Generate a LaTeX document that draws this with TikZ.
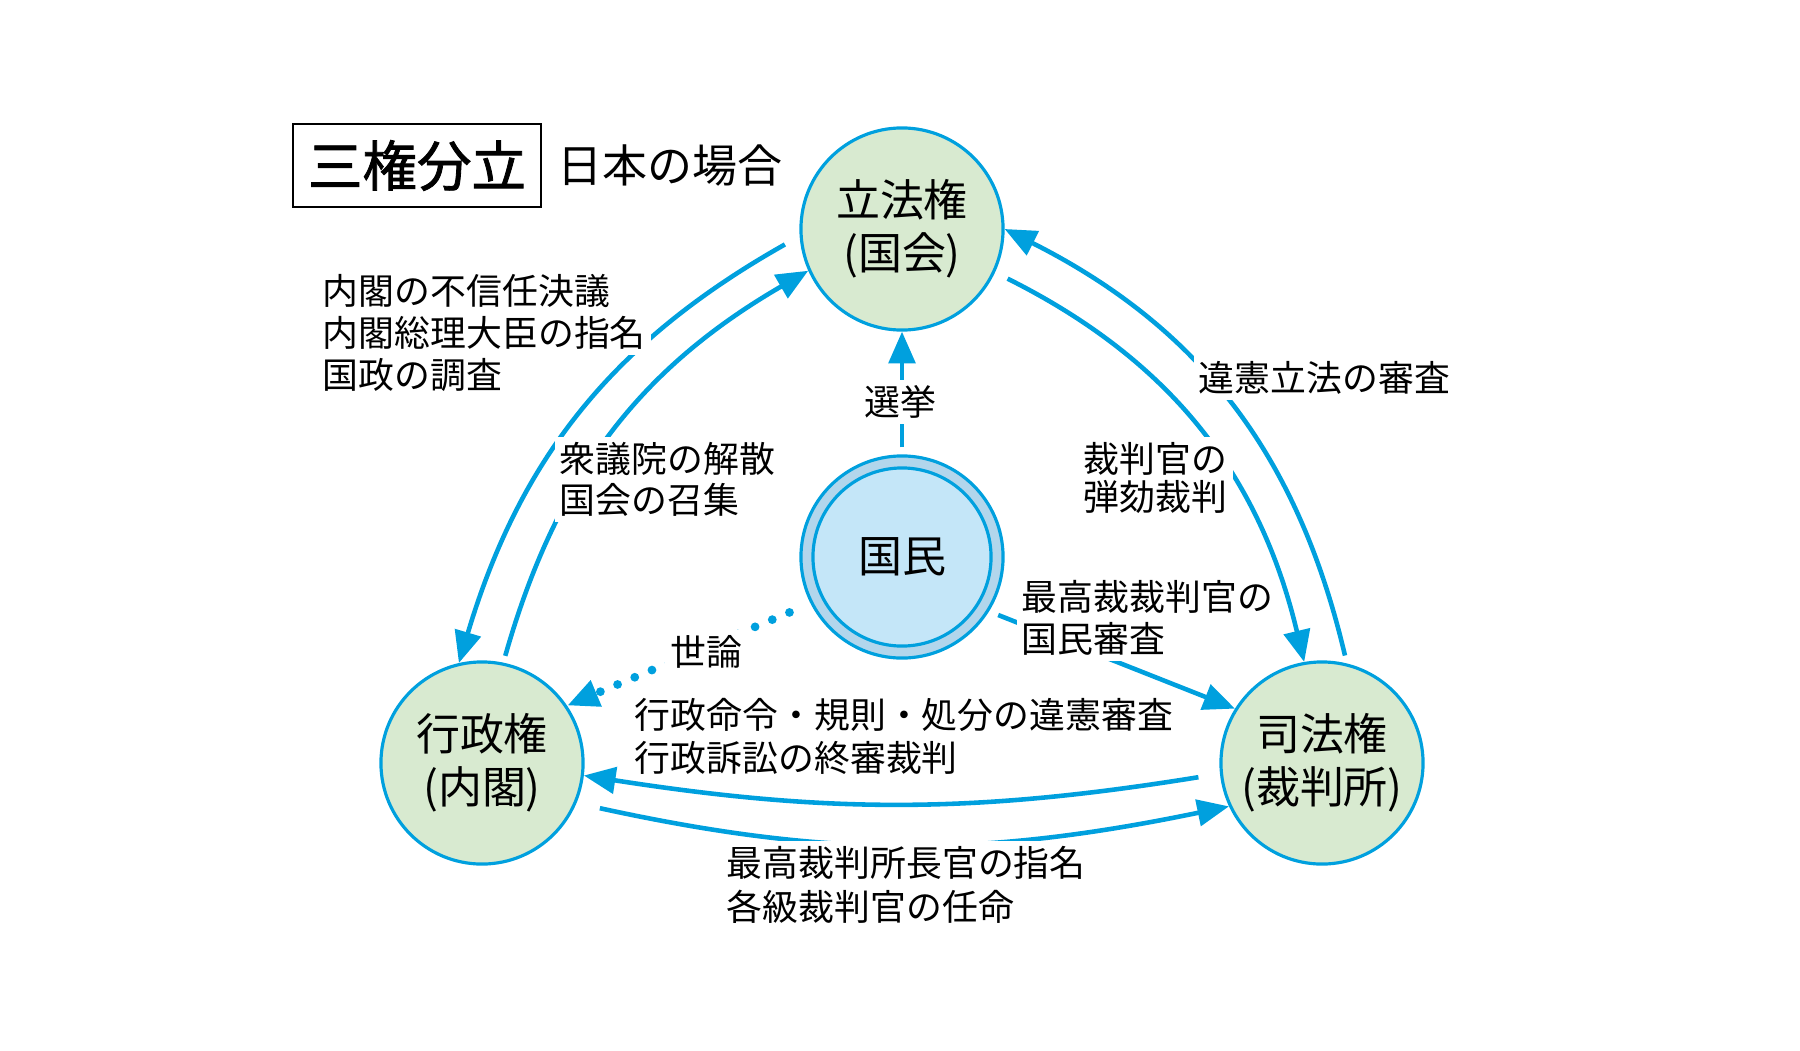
\documentclass[tikz,border=0pt]{standalone}
\usepackage{fontspec}
\setmainfont{Noto Sans CJK JP}
\newfontfamily\titlefont[FakeBold=1.5]{Noto Sans CJK JP}
\usepackage{xcolor}
\usetikzlibrary{arrows.meta,positioning,calc}
\definecolor{linkblue}{RGB}{0,160,222}
\definecolor{powergreen}{RGB}{216,234,208}
\definecolor{peoplering}{RGB}{178,214,236}
\definecolor{peoplefill}{RGB}{196,230,248}

\begin{document}
\begin{tikzpicture}[x=0.01cm,y=0.01cm,
    power/.style={circle,draw=linkblue,line width=0.9pt,fill=powergreen,minimum size=2.02cm,inner sep=0pt,align=center,font=\fontsize{12.5pt}{15pt}\selectfont},
    link/.style={draw=linkblue,line width=1.3pt,-{Triangle[length=9pt,width=7.5pt]}},
    lbl/.style={fill=white,inner sep=1.5pt,anchor=west,font=\fontsize{10.2pt}{12pt}\selectfont}]
    \useasboundingbox (0,0) rectangle (1800,1050);

    % Title
    \node[draw,line width=0.6pt,minimum width=2.48cm,minimum height=0.83cm,font=\titlefont\fontsize{15.5pt}{18pt}\selectfont] (title) at (417,884.5) {三権分立};
    \node[right=0.15cm of title,inner sep=0pt,font=\fontsize{12.8pt}{15pt}\selectfont] (subtitle) {日本の場合};

    % Three powers
    \node[power] (R) at (902,821) {立法権\\(国会)};
    \node[power] (G) at (482,287) {行政権\\(内閣)};
    \node[power] (S) at (1322,287) {司法権\\(裁判所)};

    % The people
    \node[circle,draw=linkblue,line width=0.9pt,fill=peoplering,minimum size=2.02cm] (K) at (902,493) {};
    \node[circle,draw=linkblue,line width=0.9pt,fill=peoplefill,minimum size=1.78cm,font=\fontsize{12.5pt}{15pt}\selectfont] (Kin) at (K) {国民};

    % Checks between the powers
    \draw[link,shorten <=4.8pt] (R.184) to[bend right=22] (G.103);
    \draw[link,shorten <=2pt] (G.78) to[bend left=22] (R.204);
    \draw[link,shorten <=2.3pt] (S.76) to[bend right=25] (R.0);
    \draw[link,shorten <=4pt] (R.-25) to[bend left=25] (S.100);
    \draw[link,shorten <=6.2pt] (S.186) to[bend left=9] (G.-7);
    \draw[link,shorten <=6.8pt] (G.-23) to[bend right=12] (S.205);

    % From the people
    \draw[link,shorten <=2pt] (K.north) -- (R.south);
    \draw[link,shorten <=2.8pt] (K.-32) -- (S.148);
    \draw[link,line width=2.5pt,dash pattern=on 0pt off 5.3pt,line cap=round,shorten <=6.5pt] (K.207) -- (G.34);

    % Labels, one node per line
    \node[lbl] (veto1) at (317,759) {内閣の不信任決議};
    \node[lbl] (veto2) at (317,717) {内閣総理大臣の指名};
    \node[lbl] (veto3) at (317,675) {国政の調査};
    \node[lbl] (dissolve1) at (554,591) {衆議院の解散};
    \node[lbl] (dissolve2) at (554,550) {国会の召集};
    \node[lbl] (review) at (1193,672) {違憲立法の審査};
    \node[lbl] (impeach1) at (1078,591) {裁判官の};
    \node[lbl] (impeach2) at (1078,553) {弾劾裁判};
    \node[lbl] (census1) at (1016,453) {最高裁裁判官の};
    \node[lbl] (census2) at (1016,411) {国民審査};
    \node[lbl,anchor=center] (opinion) at (706,398) {世論};
    \node[lbl] (admin1) at (629,335) {行政命令・規則・処分の違憲審査};
    \node[lbl] (admin2) at (629,292) {行政訴訟の終審裁判};
    \node[lbl] (appoint1) at (721,187) {最高裁判所長官の指名};
    \node[lbl] (appoint2) at (721,143) {各級裁判官の任命};
    \node[lbl,anchor=center] (vote) at (900,648) {選挙};
\end{tikzpicture}
\end{document}
